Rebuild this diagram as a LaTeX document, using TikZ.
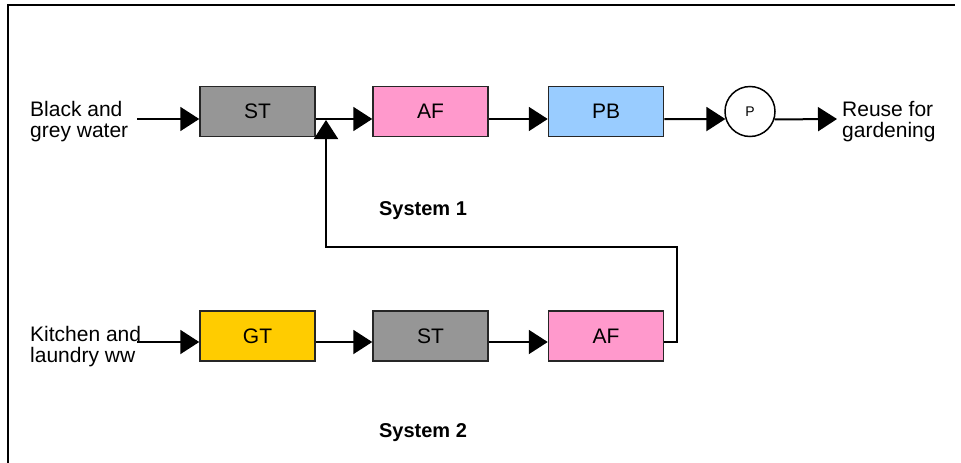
\documentclass[tikz,border=0pt]{standalone}
\usepackage{fontspec}
\setmainfont{Liberation Sans}
\usetikzlibrary{arrows.meta}
\definecolor{stgray}{HTML}{969696}
\definecolor{afpink}{HTML}{FF99CC}
\definecolor{pbblue}{HTML}{99CCFF}
\definecolor{gtyellow}{HTML}{FFCC00}
\begin{document}
\begin{tikzpicture}[x=1pt,y=-1pt,
  unit/.style={draw=black!85, line width=1.5pt, minimum width=115pt,
    minimum height=50pt, inner sep=0pt, font=\fontsize{21}{24}\selectfont},
  pumpnode/.style={draw=black, line width=1.5pt, circle, minimum size=50pt,
    inner sep=0pt, fill=white, font=\fontsize{14}{16}\selectfont},
  flow/.style={line width=2pt, -{Triangle[length=19pt,width=24pt]}},
  lbl/.style={align=left, inner sep=0pt, anchor=west,
    font=\fontsize{21}{21}\selectfont},
  syslbl/.style={inner sep=0pt, font=\fontsize{20}{22}\selectfont\bfseries}]
\useasboundingbox (0,0) rectangle (961,463);
% frame
\draw[line width=2pt] (8,463) -- (8,5) -- (955,5);

% System 1
\node[unit, fill=stgray]   (st1) at (257.5,111.5) {ST};
\node[unit, fill=afpink]   (af1) at (430.5,111.5) {AF};
\node[unit, fill=pbblue]   (pb)  at (606,111.5)   {PB};
\node[pumpnode]            (pump) at (750,111.5)  {P};
\node[lbl] (src1) at (30,122) {Black and\\grey water};
\node[lbl] (out1) at (842,122) {Reuse for\\gardening};
\coordinate (in1) at (137,119);
\coordinate (end1) at (837,119);

\draw[flow] (in1) -- ([yshift=-7.5pt]st1.west);
\draw[flow] ([yshift=-7.5pt]st1.east) -- ([yshift=-7.5pt]af1.west);
\draw[flow] ([yshift=-7.5pt]af1.east) -- ([yshift=-7.5pt]pb.west);
\draw[flow] ([yshift=-7.5pt]pb.east) -- (pump.197.5);
\draw[flow] (pump.342.5) -- (end1);
\node[syslbl] (sys1) at (423,211) {System 1};

% System 2
\node[unit, fill=gtyellow] (gt)  at (257.5,336) {GT};
\node[unit, fill=stgray]   (st2) at (430.5,336) {ST};
\node[unit, fill=afpink]   (af2) at (606,336)   {AF};
\node[lbl] (src2) at (30,347) {Kitchen and\\laundry ww};
\coordinate (in2) at (137,342);

\draw[flow] (in2) -- ([yshift=-6pt]gt.west);
\draw[flow] ([yshift=-6pt]gt.east) -- ([yshift=-6pt]st2.west);
\draw[flow] ([yshift=-6pt]st2.east) -- ([yshift=-6pt]af2.west);
\node[syslbl] (sys2) at (423,433) {System 2};

% return line from System 2 into System 1
\coordinate (fbr) at (677,247);
\coordinate (fbl) at (326,247);
\coordinate (fbtip) at (326,120);
\draw[flow] ([yshift=-6pt]af2.east) -| (fbr) -- (fbl) -- (fbtip);
\end{tikzpicture}
\end{document}
